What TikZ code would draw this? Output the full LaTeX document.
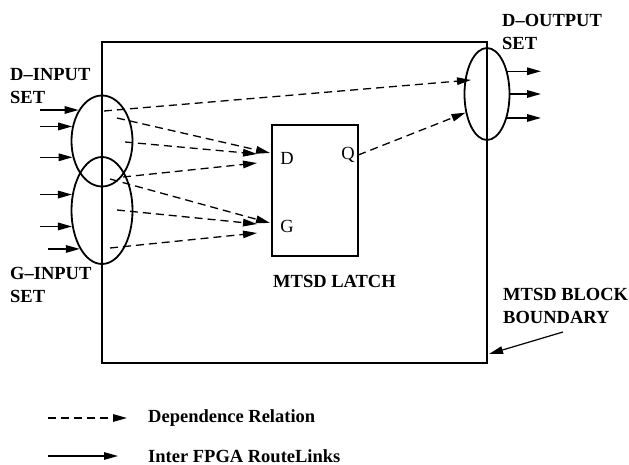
\documentclass[tikz,border=0pt]{standalone}
\usepackage{fontspec}
\setmainfont{Liberation Serif}
\usetikzlibrary{arrows.meta,positioning,shapes.geometric}

\begin{document}
\begin{tikzpicture}[x=1pt,y=-1pt, every node/.style={font=\fontsize{18.5}{23}\selectfont},
  set/.style={draw,ellipse,line width=1.8pt,inner sep=0pt},
  frame/.style={draw,line width=1.5pt,inner sep=0pt},
  lbl/.style={font=\fontsize{18.5}{23}\selectfont\bfseries,align=left,inner sep=0pt,anchor=west},
  dep/.style={dash pattern=on 8pt off 5pt,line width=1.3pt,-{Triangle[length=14pt,width=7.5pt]}},
  link/.style={line width=1.5pt,-{Triangle[length=14pt,width=7.5pt]}}]
  \useasboundingbox (0,0) rectangle (629,465);
  \node[frame,minimum width=385pt,minimum height=321pt] (block) at (294.5,202.5) {};
  \node[frame,minimum width=86pt,minimum height=131pt] (latch) at (315,190.5) {};
  \node (d) at (287,158) {D};
  \node (g) at (287,226) {G};
  \node (q) at (348,155) {Q};
  \node[set,minimum width=61pt,minimum height=91pt] (din) at (102,141) {};
  \node[set,minimum width=61pt,minimum height=107pt] (gin) at (102,210.5) {};
  \node[set,minimum width=45pt,minimum height=92pt] (dout) at (487,94) {};
  % labels
  \node[lbl] (dinlbl) at (10,86.5) {D--INPUT\\SET};
  \node[lbl] (ginlbl) at (10,285) {G--INPUT\\SET};
  \node[lbl] (doutlbl) at (502,31.5) {D--OUTPUT\\SET};
  \node[lbl] (blklbl) at (503,306) {MTSD BLOCK\\BOUNDARY};
  \node[lbl] (latchlbl) at (273,281) {MTSD LATCH};
  % route links
  \coordinate (inx) at (40,0);
  \coordinate (inx2) at (48,0);
  \coordinate (outx) at (541,0);
  \foreach \a in {127,154,209} \draw[link] (din.\a -| inx) -- (din.\a);
  \foreach \a in {152,208} \draw[link] (gin.\a -| inx) -- (gin.\a);
  \draw[link] (gin.240 -| inx2) -- (gin.240);
  \foreach \a in {48,0,310} \draw[link] (dout.\a) -- (dout.\a -| outx);
  % dependences
  \coordinate (s0) at (104,111); \coordinate (o0) at (471,80);
  \coordinate (s1) at (117,118); \coordinate (d1) at (270,153);
  \coordinate (s2) at (125,142); \coordinate (d2) at (257,154);
  \coordinate (s3) at (123,177); \coordinate (d3) at (257,163);
  \coordinate (s4) at (110,179); \coordinate (g1) at (270,223);
  \coordinate (s5) at (117,210); \coordinate (g2) at (257,224);
  \coordinate (s6) at (110,248); \coordinate (g3) at (257,233);
  \foreach \a/\b in {s0/o0,s1/d1,s2/d2,s3/d3,s4/g1,s5/g2,s6/g3} \draw[dep] (\a) -- (\b);
  \draw[dep] (q.east) -- (dout.221);
  \coordinate (bb) at (563,332); \coordinate (be) at (489,354);
  \draw[link,line width=1.2pt] (bb) -- (be);
  % legend
  \coordinate (l1) at (48,418); \coordinate (l1e) at (127,418);
  \coordinate (l2) at (48,456); \coordinate (l2e) at (118,456);
  \draw[dep] (l1) -- (l1e);
  \draw[link,line width=1.2pt] (l2) -- (l2e);
  \node[lbl] (deplbl) at (148,418) {Dependence Relation};
  \node[lbl] (linklbl) at (148,456) {Inter FPGA RouteLinks};
\end{tikzpicture}
\end{document}
